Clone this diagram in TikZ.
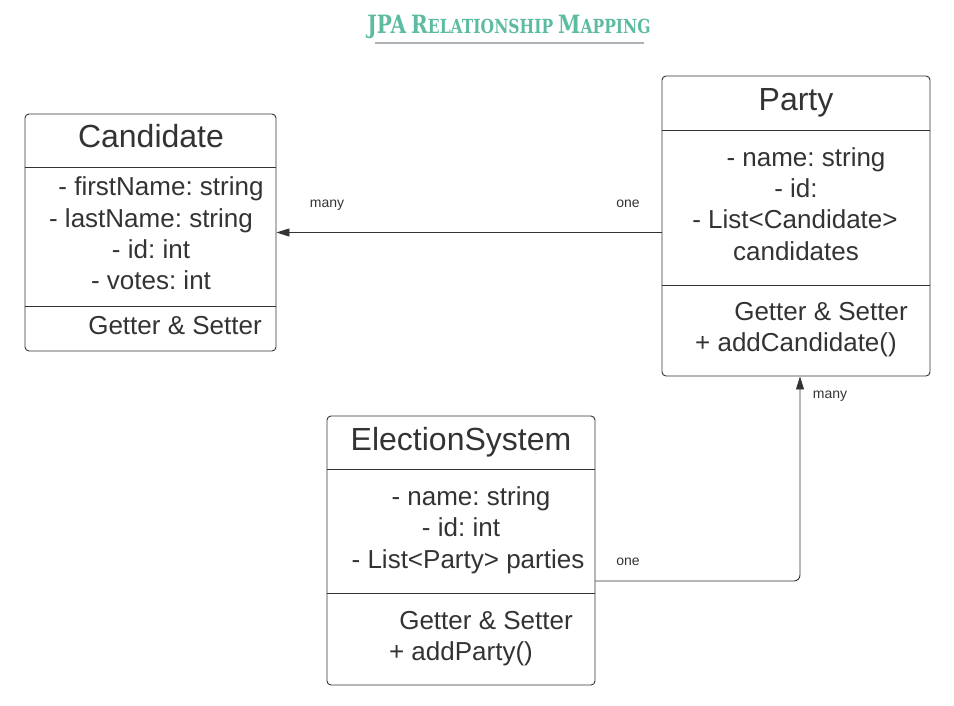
\documentclass[tikz,border=0pt]{standalone}
\usepackage{fontspec}
\setmainfont{Liberation Sans}
\newfontfamily\titlefont{DejaVu Serif}[FakeStretch=0.80]
\usetikzlibrary{arrows.meta}
\frenchspacing
\definecolor{linegray}{RGB}{51,51,51}
\definecolor{titleteal}{RGB}{92,187,161}
\definecolor{rulegray}{RGB}{172,177,182}
\newcommand{\capbig}[1]{{\fontsize{25.2}{28}\selectfont #1}}
\newcommand{\capsmall}[1]{{\fontsize{19.4}{21}\selectfont #1}}
\tikzset{
  classbox/.style={draw=linegray, line width=0.9pt, rounded corners=4pt, inner sep=0pt},
  divider/.style={draw=linegray, line width=0.9pt},
  classname/.style={font=\fontsize{32}{38}\selectfont, text=linegray, anchor=base, inner sep=0pt},
  member/.style={font=\fontsize{26}{31}\selectfont, text=linegray, anchor=base, inner sep=0pt},
  multiplicity/.style={font=\fontsize{14}{17}\selectfont, text=linegray, anchor=base, inner sep=0pt},
  relation/.style={draw=linegray, line width=0.9pt, -{Triangle[length=13pt,width=8pt]}},
}
\begin{document}
\begin{tikzpicture}[x=1pt,y=1pt,yscale=-1]
\useasboundingbox (0,0) rectangle (954,705);

% Title
\node[text=titleteal, inner sep=0pt, anchor=base] (title) at (509,33)
  {\titlefont\bfseries\spaceskip=5pt \capbig{JPA} \capbig{R}\capsmall{ELATIONSHIP} \capbig{M}\capsmall{APPING}};
\draw[rulegray, line width=1.6pt] (375,43) -- (644,43);

%Shape: Class Candidate
\node[classbox, minimum width=251pt, minimum height=237pt] (candidate) at (150.5,232.5) {};
\draw[divider] (candidate.west |- 0,167) -- (candidate.east |- 0,167);
\draw[divider] (candidate.west |- 0,306) -- (candidate.east |- 0,306);

%Shape: Class Party
\node[classbox, minimum width=268pt, minimum height=300pt] (party) at (796,226) {};
\draw[divider] (party.west |- 0,130) -- (party.east |- 0,130);
\draw[divider] (party.west |- 0,285) -- (party.east |- 0,285);

%Shape: Class ElectionSystem
\node[classbox, minimum width=268pt, minimum height=269pt] (election) at (461,550.5) {};
\draw[divider] (election.west |- 0,469) -- (election.east |- 0,469);
\draw[divider] (election.west |- 0,593) -- (election.east |- 0,593);

% Text Node
\node[classname] (candname) at (151,147) {Candidate};
\node[member] (cand1) at (161,195) {- firstName: string};
\node[member] (cand2) at (151,227) {- lastName: string};
\node[member] (cand3) at (151,258) {- id: int};
\node[member] (cand4) at (151,289) {- votes: int};
\node[member] (cand5) at (175,334) {Getter \& Setter};

% Text Node
\node[classname] (partyname) at (796,110) {Party};
\node[member] (party1) at (806,166) {- name: string};
\node[member] (party2) at (796,197) {- id:};
\node[member] (party3) at (795,228) {- List<Candidate>};
\node[member] (party4) at (796,260) {candidates};
\node[member] (party5) at (821,320) {Getter \& Setter};
\node[member] (party6) at (796,351) {+ addCandidate()};

% Text Node
\node[classname] (elecname) at (461,450) {ElectionSystem};
\node[member] (elec1) at (471,505) {- name: string};
\node[member] (elec2) at (461,536) {- id: int};
\node[member] (elec3) at (468,568) {- List<Party> parties};
\node[member] (elec4) at (486,629) {Getter \& Setter};
\node[member] (elec5) at (461,660) {+ addParty()};

%Connector: Party -> Candidate
\draw[relation] (party.west |- candidate.east) -- (candidate.east);
\node[multiplicity] (manyA) at (327,207) {many};
\node[multiplicity] (oneA) at (628,207) {one};

%Connector: ElectionSystem -> Party
\coordinate (bend) at (800,581);
\draw[relation, rounded corners=6pt] (election.east |- bend) -- (bend) -- (bend |- party.south);
\node[multiplicity] (oneB) at (628,565) {one};
\node[multiplicity] (manyB) at (830,398) {many};

\end{tikzpicture}
\end{document}
